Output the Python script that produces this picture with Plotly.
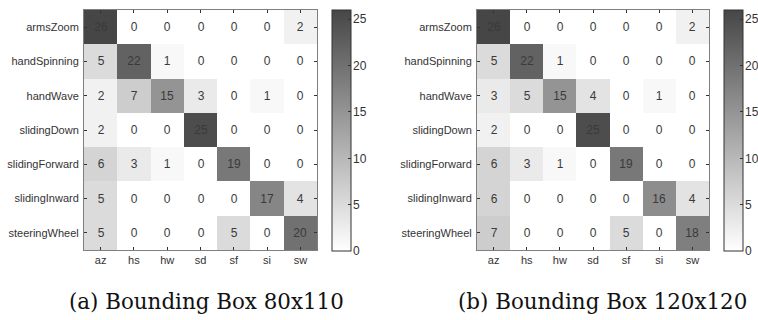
import plotly.graph_objects as go

rows = ["armsZoom", "handSpinning", "handWave", "slidingDown",
        "slidingForward", "slidingInward", "steeringWheel"]
cols = ["az", "hs", "hw", "sd", "sf", "si", "sw"]

conf_a = [
    [26, 0, 0, 0, 0, 0, 2],
    [5, 22, 1, 0, 0, 0, 0],
    [2, 7, 15, 3, 0, 1, 0],
    [2, 0, 0, 25, 0, 0, 0],
    [6, 3, 1, 0, 19, 0, 0],
    [5, 0, 0, 0, 0, 17, 4],
    [5, 0, 0, 0, 5, 0, 20],
]
conf_b = [
    [26, 0, 0, 0, 0, 0, 2],
    [5, 22, 1, 0, 0, 0, 0],
    [3, 5, 15, 4, 0, 1, 0],
    [2, 0, 0, 25, 0, 0, 0],
    [6, 3, 1, 0, 19, 0, 0],
    [6, 0, 0, 0, 0, 16, 4],
    [7, 0, 0, 0, 5, 0, 18],
]
captions = ["(a) Bounding Box 80x110", "(b) Bounding Box 120x120"]
cbar_ticks = [0, 5, 10, 15, 20, 25]
zmin, zmax = 0, 26

W, H = 758, 320
scale = [[0, "#ffffff"], [1, "#464646"]]
font = "Liberation Sans, Arial, sans-serif"

fig = go.Figure()

plot_x = [(84, 317), (477, 709)]
cbar_x = [332, 724]
cbar_w = 19
top, bottom = 10, 250

for i, z in enumerate([conf_a, conf_b]):
    xa = "x" if i == 0 else "x2"
    ya = "y" if i == 0 else "y2"
    fig.add_trace(go.Heatmap(
        z=z, x=cols, y=rows, xaxis=xa, yaxis=ya,
        zmin=zmin, zmax=zmax, colorscale=scale,
        texttemplate="%{z}",
        textfont=dict(family=font, size=12, color="#3a3a3a"),
        hoverinfo="skip",
        colorbar=dict(
            x=cbar_x[i] / W, xanchor="left", xpad=0, ypad=0,
            y=1 - top / H, yanchor="top",
            lenmode="pixels", len=bottom - top + 1,
            thicknessmode="pixels", thickness=cbar_w,
            outlinecolor="#333333", outlinewidth=1,
            tickvals=cbar_ticks, ticks="inside", ticklen=3,
            tickcolor="#333333", showticklabels=False,
        ),
    ))
    # helper axis carrying the colorbar's tick labels
    n = 3 + i
    fig.add_trace(go.Scatter(x=[], y=[], xaxis=f"x{n}", yaxis=f"y{n}",
                             showlegend=False, hoverinfo="skip"))
    fig.update_layout(**{
        f"xaxis{n}": dict(domain=[cbar_x[i] / W, (cbar_x[i] + cbar_w) / W],
                          anchor=f"y{n}", visible=False, range=[0, 1]),
        f"yaxis{n}": dict(domain=[1 - (bottom + 1) / H, 1 - top / H],
                          anchor=f"x{n}", side="right", range=[zmin, zmax],
                          tickvals=cbar_ticks, ticks="", showline=False,
                          showgrid=False, zeroline=False,
                          ticklabelstandoff=1,
                          tickfont=dict(family=font, size=12, color="#333333")),
    })

axis_common = dict(
    showline=True, linecolor="#7f7f7f", linewidth=1, mirror="ticks",
    ticks="inside", ticklen=3, tickcolor="#333333", showgrid=False,
    zeroline=False, tickfont=dict(family=font, size=11, color="#333333"),
)

for i in range(2):
    sfx = "" if i == 0 else "2"
    x0, x1 = plot_x[i]
    fig.update_layout(**{
        "xaxis" + sfx: dict(domain=[x0 / W, x1 / W], anchor="y" + sfx, **axis_common),
        "yaxis" + sfx: dict(domain=[1 - bottom / H, 1 - top / H], anchor="x" + sfx,
                            autorange="reversed", ticklabelstandoff=2, **axis_common),
    })

cap_cx = [206, 602]
for i, cap in enumerate(captions):
    fig.add_annotation(
        text=cap, x=cap_cx[i] / W, y=1 - 301 / H, xref="paper", yref="paper",
        xanchor="center", yanchor="middle", showarrow=False,
        font=dict(family="DejaVu Serif, serif", size=21.4, color="#111111"),
    )

fig.update_layout(
    width=W, height=H, margin=dict(l=0, r=0, t=0, b=0, autoexpand=False),
    paper_bgcolor="white", plot_bgcolor="white",
)

fig.write_html("out.html", config={"displayModeBar": False},
               post_script="document.body.style.margin='0px';")
